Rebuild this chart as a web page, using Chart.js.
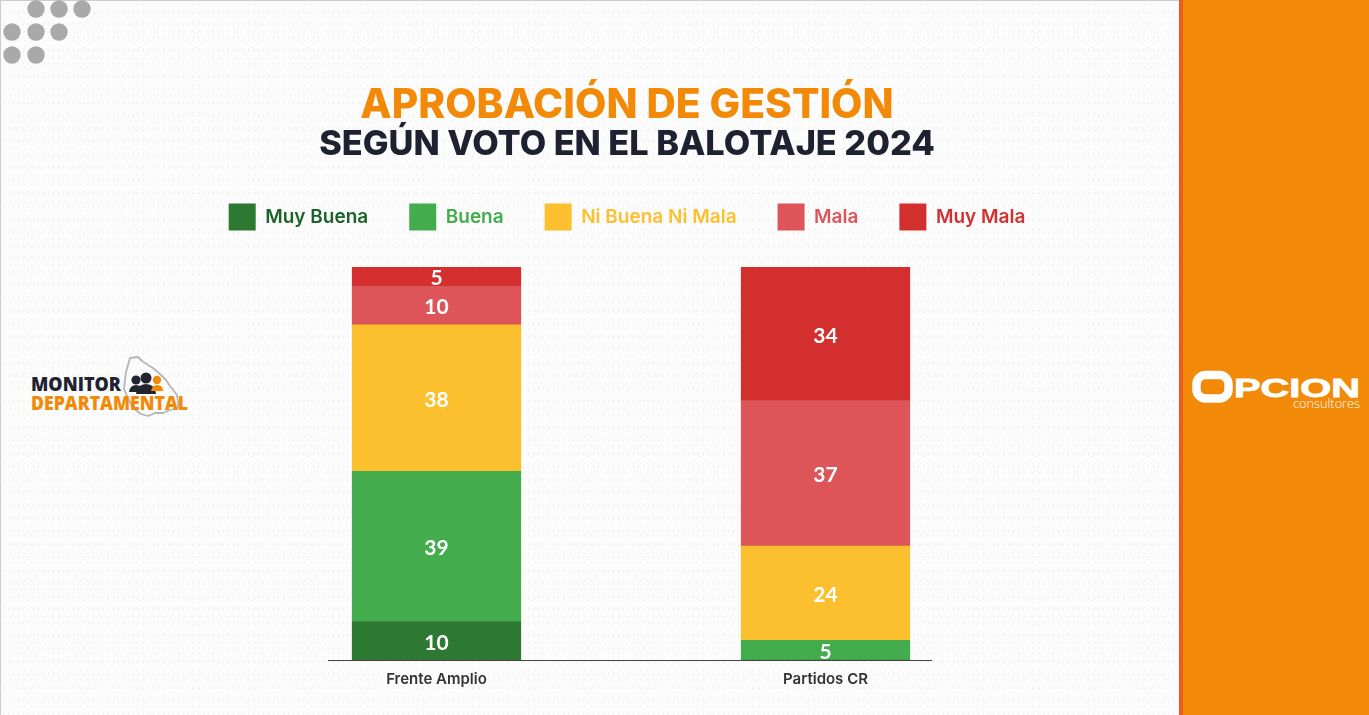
<!DOCTYPE html>
<html lang="es">
<head>
<meta charset="utf-8">
<title>Aprobación de gestión</title>
<script src="https://cdn.jsdelivr.net/npm/chart.js@4"></script>
<style>
html,body{margin:0;padding:0;width:1369px;height:715px;overflow:hidden}
body{position:relative;background-color:#fcfcfc;
background-image:radial-gradient(#ececec .6px,transparent .8px),radial-gradient(#f0f0f0 .6px,transparent .8px),radial-gradient(#f2f2f2 .6px,transparent .8px);
background-size:7px 9px,11px 6px,5px 13px;background-position:0 0,3px 2px,1px 5px}
#frame{position:absolute;left:0;top:0;width:1369px;height:715px;box-sizing:border-box;border-top:1px solid #ccc;border-left:1px solid #ccc}
#panel{position:absolute;left:1179px;top:0;width:190px;height:715px;background:#F28A07;border-left:4px solid #EE5A1F;box-sizing:border-box}
canvas{position:absolute;left:0;top:0}
svg{position:absolute;left:0;top:0}
</style>
</head>
<body>
<div id="frame"></div>
<div id="panel"></div>
<svg width="1369" height="715" viewBox="0 0 1369 715">
  <g fill="#a9a9a9">
    <circle cx="36" cy="9" r="8.7"/><circle cx="59" cy="9" r="8.7"/><circle cx="82" cy="9" r="8.7"/>
    <circle cx="12" cy="32" r="8.7"/><circle cx="36" cy="32" r="8.7"/><circle cx="59" cy="32" r="8.7"/>
    <circle cx="12" cy="55" r="8.7"/><circle cx="36" cy="55" r="8.7"/>
  </g>
  <path d="M130 358 L138 357 L142 361 L148 365 L153 368 L160 374 L166 380 L170 386 L174 391 L177 395 L178 402 L178 408 L170 410 L163 413 L155 413 L148 416 L141 414 L133 408 L128 398 L124 389 L125 380 L126 372 Z" fill="none" stroke="#b5b5b5" stroke-width="1.8" stroke-linejoin="round"/>
  <g fill="#22252f">
    <circle cx="136" cy="380" r="4.6"/><path d="M129 392 q1-7 7-7 q6 0 7 7 Z"/>
    <circle cx="146" cy="378" r="5.5"/><path d="M136 394 q1-10 10-10 q9 0 10 10 Z"/>
  </g>
  <g fill="#F28A07">
    <circle cx="157" cy="380" r="4.2"/><path d="M151 391 q1-6 6-6 q6 0 6 6 Z"/>
  </g>
  <text x="31" y="391" font-family="'Open Sans'" font-weight="800" font-size="19.5" fill="#20232f" textLength="90" lengthAdjust="spacingAndGlyphs">MONITOR</text>
  <text x="31" y="410" font-family="'Open Sans'" font-weight="800" font-size="19.5" fill="#F28A07" textLength="157" lengthAdjust="spacingAndGlyphs">DEPARTAMENTAL</text>
  <rect x="1196.5" y="375" width="32" height="23.5" rx="9" fill="none" stroke="#fff" stroke-width="8.5"/>
  <text x="1234" y="397" font-family="'Liberation Sans'" font-weight="700" font-size="26" fill="#fff" stroke="#fff" stroke-width=".8" textLength="126" lengthAdjust="spacingAndGlyphs">PCION</text>
  <text x="1293" y="408" font-family="'Open Sans'" font-weight="300" font-size="12" fill="#fff" textLength="67" lengthAdjust="spacingAndGlyphs">consultores</text>
</svg>
<canvas id="c" width="1254" height="715"></canvas>
<script>
const categories = ['Frente Amplio', 'Partidos CR'];
const seriesNames = ['Muy Buena', 'Buena', 'Ni Buena Ni Mala', 'Mala', 'Muy Mala'];
const muyBuena = [10, 0];
const buena = [39, 5];
const niBuenaNiMala = [38, 24];
const mala = [10, 37];
const muyMala = [5, 34];
const barColors = ['#2E7932', '#43AC4C', '#FCC02E', '#DD5558', '#D32F2F'];
const legendColors = ['#1B6328', '#43AC4C', '#FCC02E', '#DD5558', '#D32F2F'];
const titleText = 'APROBACIÓN DE GESTIÓN';
const subtitleText = 'SEGÚN VOTO EN EL BALOTAJE 2024';

const series = [muyBuena, buena, niBuenaNiMala, mala, muyMala];
const totals = categories.map((_, i) => series.reduce((s, a) => s + a[i], 0));

const tweakLegend = {
  id: 'tweakLegend',
  beforeLayout(chart) {
    const legend = chart.legend;
    if (legend.fitWrapped) return;
    const baseFit = legend.fit;
    legend.fit = function () { baseFit.call(this); this.height = 104.5; };
    legend.fitWrapped = true;
  }
};
const barValues = {
  id: 'barValues',
  afterDatasetsDraw(chart) {
    const ctx = chart.ctx;
    ctx.save();
    ctx.font = '700 21px Lato';
    ctx.fillStyle = '#fff';
    ctx.textAlign = 'center';
    ctx.textBaseline = 'middle';
    chart.data.datasets.forEach((ds, d) => {
      chart.getDatasetMeta(d).data.forEach((el, i) => {
        const v = series[d][i];
        if (v) ctx.fillText(String(v), el.x, (el.y + el.base) / 2 + 2);
      });
    });
    ctx.restore();
  }
};

new Chart(document.getElementById('c'), {
  type: 'bar',
  data: {
    labels: categories,
    datasets: seriesNames.map((name, d) => ({
      label: name,
      data: categories.map((_, i) => ({ x: i, y: series[d][i] / totals[i] * 100 })),
      backgroundColor: barColors[d],
      borderWidth: 0,
      barThickness: 168.6
    }))
  },
  plugins: [tweakLegend, barValues],
  options: {
    responsive: false,
    animation: false,
    devicePixelRatio: 1,
    layout: { padding: { top: 85, bottom: 17 } },
    scales: {
      x: {
        type: 'linear', stacked: true, offset: false, min: -0.2789, max: 1.2712,
        afterBuildTicks(s) { s.ticks = categories.map((_, i) => ({ value: i })); },
        grid: { display: false, drawTicks: false },
        border: { display: true, color: '#444', width: 1 },
        ticks: {
          autoSkip: false, maxRotation: 0, padding: 10, color: '#333',
          font: { family: 'Inter', size: 15, weight: '600' },
          callback: v => categories[v]
        }
      },
      y: {
        stacked: true, min: 0, max: 100, position: 'left',
        afterFit(s) { s.width = 328; },
        grid: { display: false }, border: { display: false }, ticks: { display: false }
      },
      yRight: {
        min: 0, max: 100, position: 'right', display: true,
        afterFit(s) { s.width = 323; },
        grid: { display: false }, border: { display: false }, ticks: { display: false }
      }
    },
    plugins: {
      tooltip: { enabled: false },
      title: {
        display: true, text: titleText, color: '#F28A07',
        font: { family: 'Inter', size: 40.7, weight: '800', lineHeight: 1 },
        padding: { top: 0, bottom: 0 }
      },
      subtitle: {
        display: true, text: subtitleText, color: '#1E2130',
        font: { family: 'Inter', size: 34.3, weight: '800', lineHeight: 1 },
        padding: { top: 1.5, bottom: 1 }
      },
      legend: {
        position: 'top',
        labels: {
          boxWidth: 27, boxHeight: 27, padding: 41,
          font: { family: 'Inter', size: 19, weight: '600' },
          generateLabels: chart => chart.data.datasets.map((ds, i) => ({
            text: ds.label, fillStyle: barColors[i], strokeStyle: barColors[i],
            lineWidth: 0, fontColor: legendColors[i], datasetIndex: i
          }))
        }
      }
    }
  }
});
</script>
</body>
</html>
